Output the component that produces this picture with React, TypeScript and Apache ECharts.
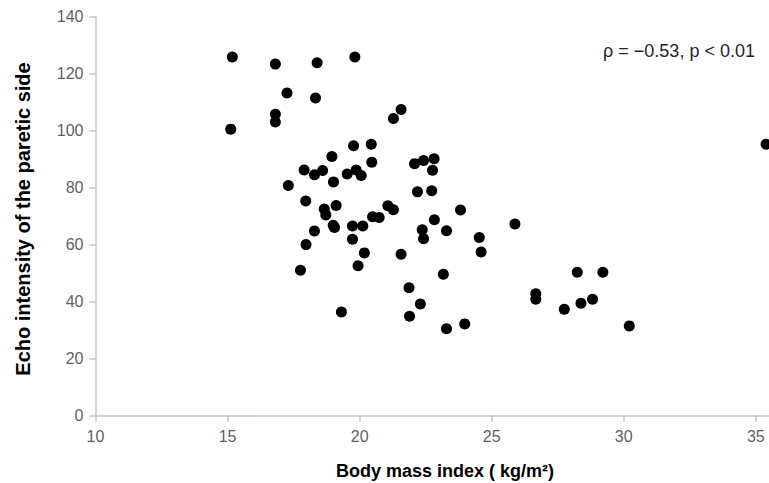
import React, { useEffect, useRef } from "react";
import * as echarts from "echarts";

const bmi: number[] = [
  15.18, 15.12, 16.81, 16.81, 16.81, 17.25, 18.39, 18.33, 19.82, 17.3,
  17.9, 18.29, 18.6, 18.95, 19.01, 19.53, 19.77, 19.87, 20.06, 20.44,
  20.46, 17.96, 18.66, 18.72, 19.11, 19.0, 19.05, 18.29, 17.97, 19.73,
  20.12, 19.73, 20.18, 19.94, 17.76, 19.31, 20.49, 20.74, 21.07, 21.28,
  21.28, 21.57, 21.57, 22.08, 22.42, 22.82, 22.76, 22.19, 22.73, 23.82,
  22.83, 22.37, 22.42, 23.29, 24.53, 24.6, 25.88, 23.17, 21.87, 22.3,
  21.89, 23.29, 23.98, 26.67, 26.67, 27.75, 28.24, 29.21, 28.38, 28.82,
  30.21, 35.39,
];
const echo: number[] = [
  125.8, 100.5, 123.3, 105.7, 103.0, 113.2, 123.8, 111.4, 125.8, 80.7,
  86.2, 84.5, 86.0, 90.9, 82.0, 84.8, 94.7, 86.2, 84.2, 95.2,
  88.9, 75.3, 72.5, 70.4, 73.7, 66.8, 66.0, 64.8, 60.0, 66.5,
  66.5, 61.9, 57.1, 52.6, 51.0, 36.4, 69.8, 69.5, 73.6, 72.2,
  104.2, 107.4, 56.6, 88.4, 89.5, 90.1, 86.1, 78.5, 78.9, 72.1,
  68.7, 65.2, 62.1, 64.9, 62.5, 57.4, 67.2, 49.6, 44.9, 39.2,
  34.9, 30.5, 32.2, 42.8, 40.8, 37.3, 50.3, 50.3, 39.4, 40.8,
  31.5, 95.2,
];
const xTicks: number[] = [10, 15, 20, 25, 30, 35];
const yTicks: number[] = [0, 20, 40, 60, 80, 100, 120, 140];
const xTitle = "Body mass index ( kg/m²)";
const yTitle = "Echo intensity of the paretic side";
const annotation = "ρ = −0.53, p < 0.01";

export default function App() {
  const ref = useRef<HTMLDivElement>(null);
  useEffect(() => {
    if (!ref.current) return;
    const chart = echarts.init(ref.current, null, { renderer: "svg" });
    const font = "'Liberation Sans', Arial, sans-serif";
    chart.setOption({
      animation: false,
      backgroundColor: "#ffffff",
      grid: { left: 95.5, right: 0, top: 16.5, bottom: 67.3 },
      xAxis: {
        type: "value",
        min: 10,
        max: 35.5,
        interval: 5,
        splitLine: { show: false },
        axisLine: { show: true, lineStyle: { color: "#c4c4c4", width: 1.5 } },
        axisTick: { show: true, length: 6, customValues: xTicks, lineStyle: { color: "#c4c4c4", width: 1.5 } },
        axisLabel: { customValues: xTicks, margin: 13, color: "#5f5f5f", fontSize: 16, fontFamily: font },
      },
      yAxis: {
        type: "value",
        min: 0,
        max: 140,
        interval: 20,
        splitLine: { show: false },
        axisLine: { show: true, lineStyle: { color: "#c4c4c4", width: 1.5 } },
        axisTick: { show: true, length: 6, customValues: yTicks, lineStyle: { color: "#c4c4c4", width: 1.5 } },
        axisLabel: { customValues: yTicks, margin: 12, color: "#5f5f5f", fontSize: 16, fontFamily: font },
      },
      series: [
        {
          type: "scatter",
          symbol: "circle",
          symbolSize: 11,
          clip: false,
          itemStyle: { color: "#000000", opacity: 1 },
          data: bmi.map((x, i) => [x, echo[i]]),
        },
      ],
      graphic: [
        {
          type: "text",
          x: 445,
          y: 471,
          style: {
            text: xTitle,
            fontSize: 18,
            fontWeight: "bold",
            fontFamily: font,
            fill: "#000000",
            align: "center",
            verticalAlign: "middle",
          },
        },
        {
          type: "text",
          x: 23,
          y: 219,
          rotation: Math.PI / 2,
          style: {
            text: yTitle,
            fontSize: 20,
            fontWeight: "bold",
            fontFamily: font,
            fill: "#000000",
            align: "center",
            verticalAlign: "middle",
          },
        },
        {
          type: "text",
          x: 679,
          y: 51,
          style: {
            text: annotation,
            fontSize: 18,
            fontFamily: font,
            fill: "#262626",
            align: "center",
            verticalAlign: "middle",
          },
        },
      ],
    });
    return () => chart.dispose();
  }, []);
  return (
    <div
      ref={ref}
      style={{ position: "absolute", left: 0, top: 0, width: 769, height: 483 }}
    />
  );
}
